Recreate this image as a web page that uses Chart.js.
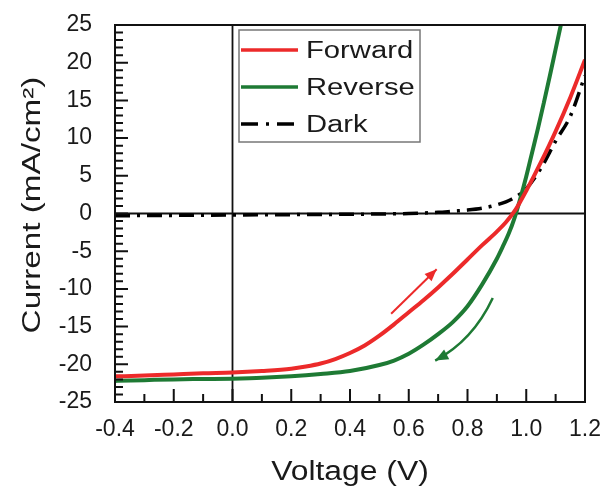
<!DOCTYPE html>
<html>
<head>
<meta charset="utf-8">
<script src="https://cdn.jsdelivr.net/npm/chart.js@4.4.1/dist/chart.umd.min.js"></script>
<style>
  body { margin: 0; background: #fff; }
  #wrap { width: 603px; height: 487px; }
</style>
</head>
<body>
<div id="wrap"><canvas id="jvChart"></canvas></div>
<script>
// J-V curves, values (V, mA/cm2)
const forwardV = [-0.4, -0.3, -0.2, -0.1, 0, 0.1, 0.2, 0.25, 0.3, 0.35, 0.4, 0.45, 0.5, 0.55, 0.6, 0.65, 0.7, 0.75, 0.8, 0.85, 0.9, 0.93, 0.96, 0.98, 1.0, 1.05, 1.1, 1.15, 1.2];
const forwardJ = [-21.6, -21.5, -21.35, -21.2, -21.1, -20.9, -20.6, -20.3, -19.9, -19.3, -18.5, -17.5, -16.2, -14.7, -13.1, -11.5, -9.8, -8.0, -6.1, -4.2, -2.4, -1.2, 0.3, 1.6, 3.0, 6.8, 10.9, 15.4, 20.4];

const reverseV = [-0.4, -0.3, -0.2, -0.1, 0, 0.1, 0.2, 0.3, 0.4, 0.5, 0.55, 0.6, 0.65, 0.7, 0.75, 0.8, 0.85, 0.9, 0.92, 0.94, 0.96, 0.98, 1.0, 1.02, 1.04, 1.06, 1.08, 1.1, 1.12, 1.14];
const reverseJ = [-22.2, -22.1, -22.0, -21.95, -21.9, -21.8, -21.6, -21.3, -20.9, -20.1, -19.5, -18.6, -17.4, -16.0, -14.4, -12.3, -9.4, -6.0, -4.4, -2.7, -0.6, 2.0, 4.9, 8.1, 11.3, 14.7, 18.2, 21.8, 25.4, 29.0];

const darkV = [-0.4, -0.2, 0, 0.2, 0.4, 0.6, 0.7, 0.75, 0.8, 0.85, 0.9, 0.95, 1.0, 1.05, 1.1, 1.15, 1.2];
const darkJ = [-0.3, -0.25, -0.2, -0.15, -0.1, 0, 0.15, 0.3, 0.45, 0.7, 1.15, 1.9, 3.3, 6.0, 9.6, 12.9, 18.3];

// axis ticks and titles
const xTickValues = [-0.4, -0.2, 0, 0.2, 0.4, 0.6, 0.8, 1.0, 1.2];
const xTickLabels = ["-0.4", "-0.2", "0.0", "0.2", "0.4", "0.6", "0.8", "1.0", "1.2"];
const yTickValues = [25, 20, 15, 10, 5, 0, -5, -10, -15, -20, -25];
const yTickLabels = ["25", "20", "15", "10", "5", "0", "-5", "-10", "-15", "-20", "-25"];
const xTitle = "Voltage (V)";
const yTitle = "Current (mA/cm²)";

// scan direction arrows (data coords)
const arrowForward = [[0.54, -13.3], [0.695, -7.4]];
const arrowReverse = [[0.886, -11.2], [0.803, -16.1], [0.69, -19.5]]; // start, mid, end

const FONT = "'Liberation Sans', Arial, sans-serif";
const INK = "#1a1a1a";

function toPoints(xs, ys) {
  return xs.map((v, i) => ({ x: v, y: ys[i] }));
}

// the original figure's text is drawn a bit wide, so stretch it along the baseline
function wideText(ctx, text, x, y, sx, rot) {
  ctx.save();
  ctx.translate(x, y);
  ctx.rotate(rot);
  ctx.scale(sx, 1);
  ctx.fillText(text, 0, 0);
  ctx.restore();
}

function arrowHead(ctx, tipX, tipY, fromX, fromY, len, half) {
  const ang = Math.atan2(tipY - fromY, tipX - fromX);
  const c = Math.cos(ang), s = Math.sin(ang);
  ctx.beginPath();
  ctx.moveTo(tipX, tipY);
  ctx.lineTo(tipX - len * c + half * s, tipY - len * s - half * c);
  ctx.lineTo(tipX - len * c - half * s, tipY - len * s + half * c);
  ctx.closePath();
  ctx.fill();
}

const framePlugin = {
  id: "frame",
  beforeDatasetsDraw(chart) {
    const { ctx, chartArea: a, scales: { x, y } } = chart;
    const x0 = x.getPixelForValue(0), y0 = y.getPixelForValue(0);
    ctx.save();
    ctx.strokeStyle = "#111";
    ctx.lineWidth = 1.8;
    ctx.beginPath();
    ctx.moveTo(x0, a.top); ctx.lineTo(x0, a.bottom);
    ctx.moveTo(a.left, y0); ctx.lineTo(a.right, y0);
    ctx.stroke();
    ctx.restore();
  },
  afterDatasetsDraw(chart) {
    const { ctx, chartArea: a, scales: { x, y } } = chart;
    ctx.save();

    // inward ticks
    ctx.strokeStyle = "#111";
    ctx.lineWidth = 2;
    ctx.beginPath();
    for (let k = -4; k <= 12; k++) {
      const px = x.getPixelForValue(k / 10);
      const len = k % 2 === 0 ? 13 : 8;
      ctx.moveTo(px, a.bottom); ctx.lineTo(px, a.bottom - len);
    }
    for (let k = -25; k <= 25; k++) {
      const py = y.getPixelForValue(k);
      const len = k % 5 === 0 ? 13 : 8;
      ctx.moveTo(a.left, py); ctx.lineTo(a.left + len, py);
    }
    ctx.stroke();

    // frame
    ctx.strokeRect(a.left, a.top, a.right - a.left, a.bottom - a.top);

    // arrows
    const red = chart.data.datasets[0].borderColor;
    const green = chart.data.datasets[1].borderColor;
    const fs = arrowForward.map(p => [x.getPixelForValue(p[0]), y.getPixelForValue(p[1])]);
    ctx.strokeStyle = red; ctx.fillStyle = red; ctx.lineWidth = 2;
    ctx.beginPath();
    ctx.moveTo(fs[0][0], fs[0][1]); ctx.lineTo(fs[1][0], fs[1][1]);
    ctx.stroke();
    arrowHead(ctx, fs[1][0], fs[1][1], fs[0][0], fs[0][1], 12, 5);

    const rs = arrowReverse.map(p => [x.getPixelForValue(p[0]), y.getPixelForValue(p[1])]);
    const cx = 2 * rs[1][0] - (rs[0][0] + rs[2][0]) / 2;
    const cy = 2 * rs[1][1] - (rs[0][1] + rs[2][1]) / 2;
    ctx.strokeStyle = green; ctx.fillStyle = green; ctx.lineWidth = 2.5;
    ctx.beginPath();
    ctx.moveTo(rs[0][0], rs[0][1]);
    ctx.quadraticCurveTo(cx, cy, rs[2][0], rs[2][1]);
    ctx.stroke();
    arrowHead(ctx, rs[2][0], rs[2][1], cx, cy, 13, 5.5);

    // legend box
    const lx = a.left + 124, ly = a.top + 5, lw = 181, lh = 112;
    ctx.fillStyle = "#fff";
    ctx.fillRect(lx, ly, lw, lh);
    ctx.strokeStyle = "#777";
    ctx.lineWidth = 1.5;
    ctx.strokeRect(lx, ly, lw, lh);
    ctx.font = "23px " + FONT;
    ctx.textBaseline = "alphabetic";
    ctx.textAlign = "left";
    chart.data.datasets.forEach((ds, i) => {
      const ry = ly + 20 + i * 37;
      ctx.strokeStyle = ds.borderColor;
      ctx.lineWidth = 3.5;
      ctx.setLineDash(ds.borderDash ? [17, 8, 3, 8] : []);
      ctx.beginPath();
      ctx.moveTo(lx + 2, ry); ctx.lineTo(lx + 59, ry);
      ctx.stroke();
      ctx.setLineDash([]);
      ctx.fillStyle = INK;
      wideText(ctx, ds.label, lx + 67, ry + 7.5, 1.27, 0);
    });

    // axis titles
    ctx.fillStyle = INK;
    ctx.textAlign = "center";
    ctx.font = "27px " + FONT;
    wideText(ctx, xTitle, (a.left + a.right) / 2, 480, 1.18, 0);
    ctx.font = "25px " + FONT;
    wideText(ctx, yTitle, 40, 205, 1.33, -Math.PI / 2);
    ctx.restore();
  }
};

new Chart(document.getElementById("jvChart"), {
  type: "line",
  data: {
    datasets: [
      { label: "Forward", data: toPoints(forwardV, forwardJ), borderColor: "#ec2a2a", borderWidth: 4, pointRadius: 0, cubicInterpolationMode: "monotone", clip: 0 },
      { label: "Reverse", data: toPoints(reverseV, reverseJ), borderColor: "#1e7a34", borderWidth: 4, pointRadius: 0, cubicInterpolationMode: "monotone", clip: 0 },
      { label: "Dark", data: toPoints(darkV, darkJ), borderColor: "#000", borderWidth: 3.5, borderDash: [15, 7, 3, 7], pointRadius: 0, cubicInterpolationMode: "monotone", clip: 0 }
    ]
  },
  options: {
    responsive: true,
    maintainAspectRatio: false,
    animation: false,
    layout: { padding: { top: 25, right: 18, left: 0, bottom: 0 } },
    plugins: { legend: { display: false }, tooltip: { enabled: false } },
    scales: {
      x: {
        type: "linear",
        min: -0.4,
        max: 1.2,
        grid: { display: false },
        border: { display: false },
        afterBuildTicks: s => { s.ticks = xTickValues.map(v => ({ value: v })); },
        afterFit: s => { s.height = 85; s.paddingLeft = 0; s.paddingRight = 0; },
        ticks: { callback: (v, i) => xTickLabels[i], padding: 6, maxRotation: 0, autoSkip: false, color: INK, font: { family: FONT, size: 23 } }
      },
      y: {
        type: "linear",
        min: -25,
        max: 25,
        grid: { display: false },
        border: { display: false },
        afterBuildTicks: s => { s.ticks = yTickValues.map(v => ({ value: v })); },
        afterFit: s => { s.width = 115; s.paddingTop = 0; s.paddingBottom = 0; },
        ticks: { callback: (v, i) => yTickLabels[i], padding: 15, autoSkip: false, color: INK, font: { family: FONT, size: 23 } }
      }
    }
  },
  plugins: [framePlugin]
});
</script>
</body>
</html>
